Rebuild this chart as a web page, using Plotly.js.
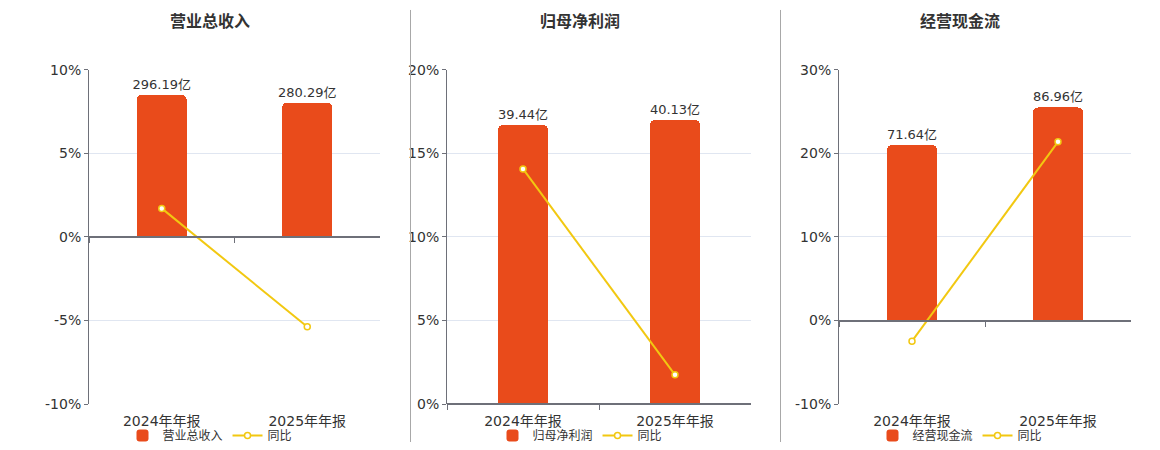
<!DOCTYPE html>
<html>
<head>
<meta charset="utf-8">
<script src="https://cdn.plot.ly/plotly-3.0.1.min.js"></script>
<style>
  html, body { margin: 0; padding: 0; background: #fff; }
  #chart { width: 1160px; height: 450px; }
</style>
</head>
<body>
<div id="chart"></div>
<script>
// data
var categories = ['2024年年报', '2025年年报'];
var panelTitles = ['营业总收入', '归母净利润', '经营现金流'];

var revenue = [296.19, 280.29];
var revenueYoy = [1.71, -5.37];

var netProfit = [39.44, 40.13];
var netProfitYoy = [14.07, 1.75];

var cashFlow = [71.64, 86.96];
var cashFlowYoy = [-2.47, 21.38];

var barSeries = [revenue, netProfit, cashFlow];
var yoySeries = [revenueYoy, netProfitYoy, cashFlowYoy];

// percent axis ticks per panel
var pctTicks = [
  [-10, -5, 0, 5, 10],
  [0, 5, 10, 15, 20],
  [-10, 0, 10, 20, 30]
];

// layout helpers (pixels)
var W = 1160, H = 450;
var plotPx = [[89, 380], [447, 751], [839, 1131]];
var centerPx = [210, 580, 960];
var yDom = [1 - 405 / H, 1 - 70 / H];

var barColor = '#E94B1B';
var lineColor = '#F2C811';
var axisColor = '#6E7079';
var gridColor = '#E0E6F1';
var textColor = '#333333';
var fontFamily = 'DejaVu Sans, Noto Sans CJK SC, sans-serif';

var traces = [];
var layout = {
  width: W,
  height: H,
  margin: { l: 0, r: 0, t: 0, b: 0 },
  paper_bgcolor: '#fff',
  plot_bgcolor: 'rgba(0,0,0,0)',
  font: { family: fontFamily, size: 12, color: textColor },
  showlegend: true,
  bargap: 0,
  annotations: [],
  shapes: []
};

for (var i = 0; i < 3; i++) {
  var n = i + 1;
  var sx = n === 1 ? '' : String(n);       // base axes: bars
  var ox = String(n + 3);                   // overlay axes: percent line
  var dom = [plotPx[i][0] / W, plotPx[i][1] / W];
  var ticks = pctTicks[i];
  var pr = [ticks[0], ticks[ticks.length - 1]];

  var maxBar = Math.max.apply(null, barSeries[i]);
  var barTop = maxBar / 0.85;
  var barRange = [pr[0] / pr[1] * barTop, barTop];

  var zeroPos = yDom[0] + (0 - pr[0]) / (pr[1] - pr[0]) * (yDom[1] - yDom[0]);
  var catPx = (plotPx[i][1] - plotPx[i][0]) / categories.length;
  var legendId = n === 1 ? 'legend' : 'legend' + n;

  traces.push({
    type: 'bar',
    name: panelTitles[i],
    x: categories,
    y: barSeries[i],
    xaxis: 'x' + sx,
    yaxis: 'y' + sx,
    width: 50 / catPx,
    marker: { color: barColor, cornerradius: 5 },
    text: barSeries[i].map(function (v) { return v.toFixed(2) + '亿'; }),
    textposition: 'outside',
    constraintext: 'none',
    textfont: { size: 13, color: textColor },
    cliponaxis: false,
    legend: legendId,
    hoverinfo: 'none'
  });

  traces.push({
    type: 'scatter',
    mode: 'lines+markers',
    name: '同比',
    x: categories,
    y: yoySeries[i],
    xaxis: 'x' + ox,
    yaxis: 'y' + ox,
    line: { color: lineColor, width: 2 },
    marker: { symbol: 'circle', size: 6, color: '#ffffff', line: { color: lineColor, width: 1.5 } },
    cliponaxis: false,
    legend: legendId,
    hoverinfo: 'none'
  });

  // base x axis: category labels at the bottom
  layout['xaxis' + sx] = {
    domain: dom,
    anchor: 'y' + sx,
    type: 'category',
    range: [-0.5, categories.length - 0.5],
    showline: false,
    showgrid: false,
    zeroline: false,
    ticks: '',
    ticklabelstandoff: 7,
    tickfont: { size: 14, color: textColor },
    fixedrange: true
  };
  // base y axis: bar values, hidden
  layout['yaxis' + sx] = {
    domain: yDom,
    anchor: 'x' + sx,
    range: barRange,
    visible: false,
    fixedrange: true
  };
  // overlay x axis: the line at zero with boundary ticks
  layout['xaxis' + ox] = {
    domain: dom,
    overlaying: 'x' + sx,
    anchor: 'free',
    position: zeroPos,
    type: 'category',
    range: [-0.5, categories.length - 0.5],
    showline: true,
    linecolor: axisColor,
    linewidth: 2,
    showgrid: false,
    zeroline: false,
    ticks: 'outside',
    tickson: 'boundaries',
    ticklen: 5,
    tickcolor: axisColor,
    showticklabels: false,
    fixedrange: true
  };
  // overlay y axis: percent with grid
  layout['yaxis' + ox] = {
    domain: yDom,
    overlaying: 'y' + sx,
    anchor: 'x' + sx,
    side: 'left',
    range: pr,
    tickmode: 'array',
    tickvals: ticks,
    ticktext: ticks.map(function (t) { return t + '%'; }),
    showline: true,
    linecolor: axisColor,
    linewidth: 1,
    ticks: 'outside',
    ticklen: 4,
    tickcolor: axisColor,
    showgrid: true,
    gridcolor: gridColor,
    gridwidth: 1,
    zeroline: false,
    tickfont: { size: 14, color: textColor },
    fixedrange: true
  };

  layout[legendId] = {
    orientation: 'h',
    x: centerPx[i] / W,
    xanchor: 'center',
    y: 1 - 436 / H,
    yanchor: 'middle',
    bgcolor: 'rgba(0,0,0,0)',
    font: { size: 12, color: textColor },
    itemclick: false,
    itemdoubleclick: false
  };

  layout.annotations.push({
    text: panelTitles[i],
    xref: 'paper',
    yref: 'paper',
    x: centerPx[i] / W,
    y: 1 - 22 / H,
    xanchor: 'center',
    yanchor: 'middle',
    showarrow: false,
    font: { size: 16, color: textColor, weight: 'bold' }
  });
}

// grey dividers between the panels
[410.5, 780.5].forEach(function (px) {
  layout.shapes.push({
    type: 'line',
    xref: 'paper',
    yref: 'paper',
    x0: px / W, x1: px / W,
    y0: 1 - 443 / H, y1: 1 - 10 / H,
    line: { color: '#A8A8A8', width: 1 }
  });
});

Plotly.newPlot('chart', traces, layout, { displayModeBar: false, staticPlot: true });
</script>
</body>
</html>
